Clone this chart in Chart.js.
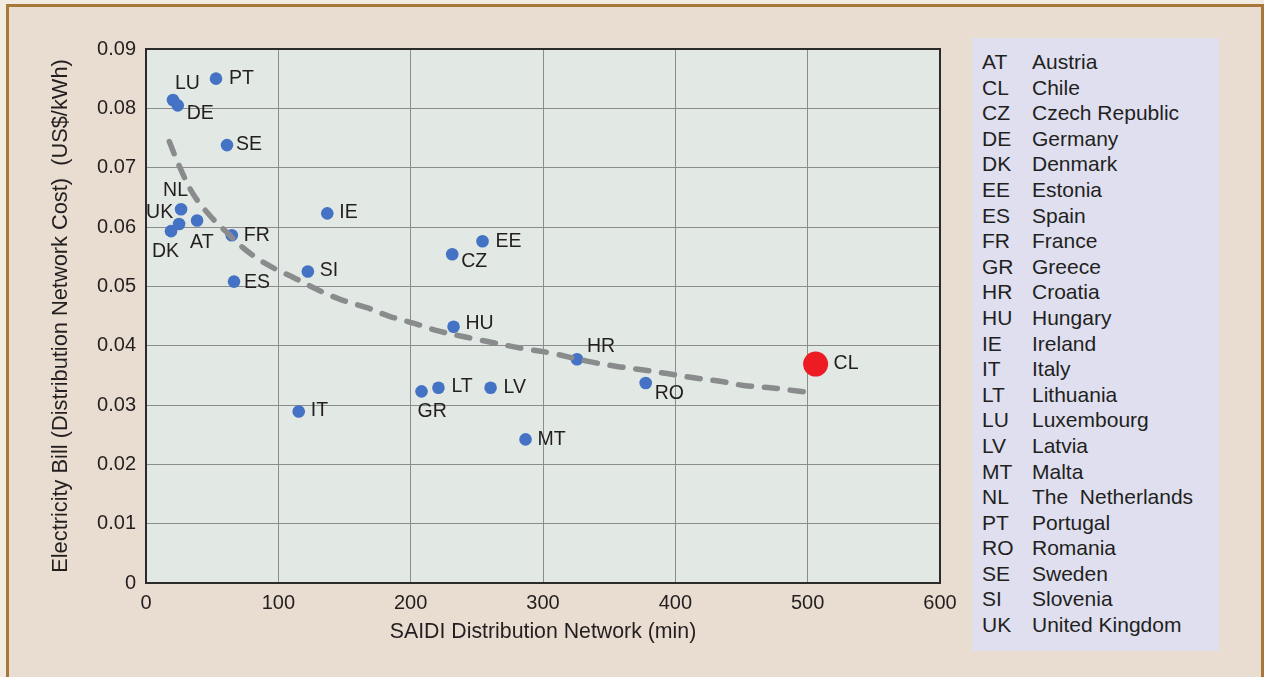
<!DOCTYPE html>
<html>
<head>
<meta charset="utf-8">
<script src="https://cdn.jsdelivr.net/npm/chart.js@4"></script>
<style>
  html, body { margin: 0; padding: 0; background: #f2ebe2; }
  #frame {
    position: absolute; left: 6px; top: 4px; width: 1252px; height: 680px;
    background: #e8ddd0;
    border-left: 3px solid #a8783a; border-top: 3px solid #a8783a; border-right: 3px solid #a8783a;
  }
  #chart { position: absolute; left: 0; top: 0; }
  #key {
    position: absolute; left: 972px; top: 38px; width: 247px; height: 613px;
    background: #dfdff0; box-sizing: border-box; padding: 11px 0 0 10px;
    font-family: "Liberation Sans", Arial, sans-serif; font-size: 21px; color: #231f20;
    line-height: 25.6px;
  }
  #key .row { white-space: pre; }
  #key .code { display: inline-block; width: 50px; }
</style>
</head>
<body>
<div id="frame"></div>
<canvas id="chart" width="1264" height="677"></canvas>
<div id="key"></div>
<script>
// countries (codes + names for the key)
const codes = ['AT','CL','CZ','DE','DK','EE','ES','FR','GR','HR','HU','IE','IT','LT','LU','LV','MT','NL','PT','RO','SE','SI','UK'];
const names = ['Austria','Chile','Czech Republic','Germany','Denmark','Estonia','Spain','France','Greece','Croatia','Hungary','Ireland','Italy','Lithuania','Luxembourg','Latvia','Malta','The  Netherlands','Portugal','Romania','Sweden','Slovenia','United Kingdom'];

// SAIDI (min) and distribution cost (US$/kWh)
const saidi = [38.6, 506, 231.4, 24, 18.9, 254.3, 66.5, 64.8, 208.2, 325.7, 232.4, 137, 115.4, 221, 20.4, 260.4, 286.8, 26.5, 52.9, 377.6, 61.2, 122.3, 25];
const bill  = [0.0611, 0.0369, 0.0554, 0.0805, 0.0593, 0.0576, 0.0508, 0.0586, 0.0323, 0.0377, 0.0432, 0.0623, 0.0289, 0.0329, 0.0814, 0.0329, 0.0242, 0.0630, 0.0850, 0.0337, 0.0738, 0.0525, 0.0605];

// dashed trend curve
const trendX = [17.6, 25.7, 35.8, 48.4, 61, 76.1, 93.8, 111.4, 129, 146.7, 166.9, 184.5, 202.1, 222.3, 245, 262.6, 282.8, 305, 333.2, 355.9, 376, 393.7, 416.4, 434, 451.6, 471.8, 490.7, 505.9];
const trendY = [0.0744, 0.0700, 0.0655, 0.0619, 0.0591, 0.0560, 0.0534, 0.0515, 0.0495, 0.0478, 0.0464, 0.0449, 0.0438, 0.0424, 0.0413, 0.0405, 0.0396, 0.0388, 0.0374, 0.0365, 0.0359, 0.0353, 0.0345, 0.0340, 0.0333, 0.0329, 0.0324, 0.0320];

const xTickLabels = ['0','100','200','300','400','500','600'];
const yTickLabels = ['0','0.01','0.02','0.03','0.04','0.05','0.06','0.07','0.08','0.09'];

// where each point label sits relative to its dot [dx, dy]
const labelPos = {
  PT:[13,0], LU:[2,-16], DE:[9,8], SE:[9,0], NL:[-18,-19], UK:[-33,-11], DK:[-19,20], AT:[-7,22],
  FR:[12,0], ES:[10,1], SI:[12,-1], IE:[12,-1], EE:[13,0], CZ:[9,7], HU:[12,-3], GR:[-4,20],
  LT:[13,-1], LV:[13,0], IT:[12,-1], MT:[12,0], HR:[10,-13], RO:[9,11], CL:[18,0]
};

// key panel
document.getElementById('key').innerHTML = codes.map((c, i) =>
  '<div class="row"><span class="code">' + c + '</span>' + names[i] + '</div>').join('');

Chart.defaults.font.family = '"Liberation Sans", Arial, sans-serif';
Chart.defaults.color = '#231f20';

const plotFrame = {
  id: 'plotFrame',
  beforeDraw(chart) {
    const a = chart.chartArea, ctx = chart.ctx;
    ctx.save();
    ctx.fillStyle = '#e2e9e4';
    ctx.fillRect(a.left, a.top, a.right - a.left, a.bottom - a.top);
    ctx.restore();
  },
  beforeDatasetsDraw(chart) {
    const a = chart.chartArea, ctx = chart.ctx;
    ctx.save();
    ctx.strokeStyle = '#2b2b2b';
    ctx.lineWidth = 2;
    ctx.strokeRect(a.left, a.top, a.right - a.left, a.bottom - a.top);
    ctx.restore();
  }
};

const pointLabels = {
  id: 'pointLabels',
  afterDatasetsDraw(chart) {
    const ctx = chart.ctx;
    const meta = chart.getDatasetMeta(1);
    ctx.save();
    ctx.font = '19.5px "Liberation Sans", Arial, sans-serif';
    ctx.fillStyle = '#231f20';
    ctx.textBaseline = 'middle';
    ctx.textAlign = 'left';
    meta.data.forEach((pt, i) => {
      const off = labelPos[codes[i]] || [10, 0];
      ctx.fillText(codes[i], pt.x + off[0], pt.y + off[1]);
    });
    ctx.restore();
  }
};

new Chart(document.getElementById('chart'), {
  type: 'scatter',
  data: {
    datasets: [
      {
        label: 'trend',
        type: 'line',
        data: trendX.map((x, i) => ({ x: x, y: trendY[i] })),
        borderColor: '#8a8b8d',
        borderWidth: 5.5,
        borderDash: [13, 13],
        borderCapStyle: 'round',
        tension: 0.4,
        pointRadius: 0,
        fill: false
      },
      {
        label: 'countries',
        data: saidi.map((x, i) => ({ x: x, y: bill[i] })),
        pointRadius: codes.map(c => c === 'CL' ? 12.5 : 6.3),
        pointBackgroundColor: codes.map(c => c === 'CL' ? '#ed1c24' : '#4472c4'),
        pointBorderWidth: 0
      }
    ]
  },
  options: {
    responsive: false,
    animation: false,
    layout: { padding: { left: 36, right: 324, top: 49, bottom: 24 } },
    plugins: { legend: { display: false }, tooltip: { enabled: false } },
    scales: {
      x: {
        min: 0, max: 600,
        afterFit(s) { s.height = 70; },
        border: { display: false },
        grid: { color: '#8c8c8c', lineWidth: 1, drawTicks: false },
        ticks: {
          stepSize: 100, padding: 8, font: { size: 20 },
          callback: (v, i) => xTickLabels[i]
        },
        title: {
          display: true, text: 'SAIDI Distribution Network (min)',
          font: { size: 21.3 }, padding: { top: 0, bottom: 8 }
        }
      },
      y: {
        min: 0, max: 0.09,
        afterFit(s) { s.width = 110; },
        border: { display: false },
        grid: { color: '#8c8c8c', lineWidth: 1, drawTicks: false },
        ticks: {
          stepSize: 0.01, padding: 10, font: { size: 20 },
          callback: (v, i) => yTickLabels[i]
        },
        title: {
          display: true, text: 'Electricity Bill (Distribution Network Cost)  (US$/kWh)',
          font: { size: 21.8 }, padding: { top: 12, bottom: 0 }
        }
      }
    }
  },
  plugins: [plotFrame, pointLabels]
});
</script>
</body>
</html>
